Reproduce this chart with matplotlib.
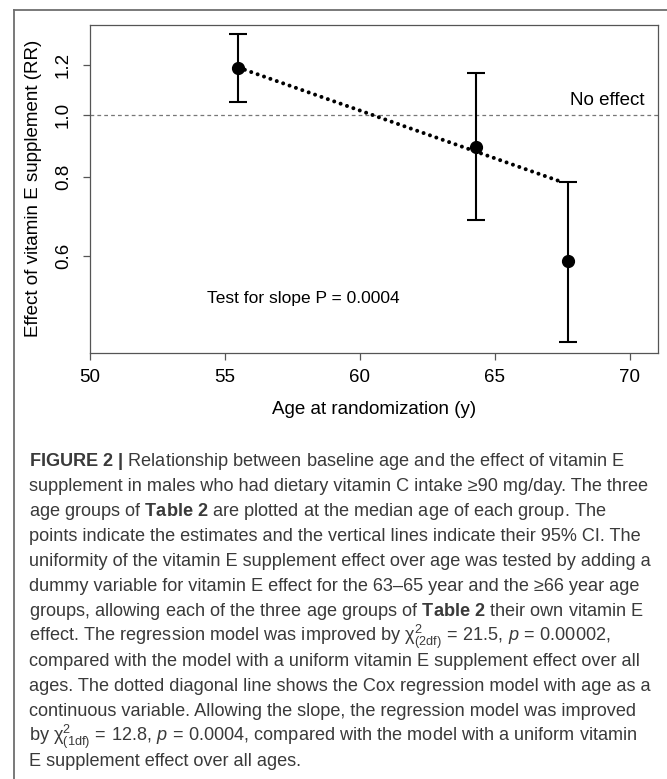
import matplotlib
matplotlib.use("Agg")
import matplotlib.pyplot as plt
from matplotlib.lines import Line2D

W, H, DPI = 667, 779, 100

# median age of each group, estimate and 95% CI of the RR
ages = [55.5, 64.3, 67.7]
rr = [1.187, 0.893, 0.588]
ci_low = [1.051, 0.684, 0.439]
ci_high = [1.343, 1.167, 0.786]

# Cox model with age continuous (straight on log scale)
trend_age = [55.5, 67.55]
trend_rr = [1.19, 0.783]

xticks = [50, 55, 60, 65, 70]
yticks = [0.6, 0.8, 1.0, 1.2]
ytick_labels = ["0.6", "0.8", "1.0", "1.2"]

caption_lines = [
    r"$\mathbf{FIGURE\ 2\ |}$ Relationship between baseline age and the effect of vitamin E",
    "supplement in males who had dietary vitamin C intake ≥90 mg/day. The three",
    r"age groups of $\mathbf{Table\ 2}$ are plotted at the median age of each group. The",
    "points indicate the estimates and the vertical lines indicate their 95% CI. The",
    "uniformity of the vitamin E supplement effect over age was tested by adding a",
    "dummy variable for vitamin E effect for the 63–65 year and the ≥66 year age",
    r"groups, allowing each of the three age groups of $\mathbf{Table\ 2}$ their own vitamin E",
    r"effect. The regression model was improved by $\mathrm{\chi}^2_{(2\mathrm{df})}\,=\,21.5$, $p\,=\,0.00002$,",
    "compared with the model with a uniform vitamin E supplement effect over all",
    "ages. The dotted diagonal line shows the Cox regression model with age as a",
    "continuous variable. Allowing the slope, the regression model was improved",
    r"by $\mathrm{\chi}^2_{(1\mathrm{df})}\,=\,12.8$, $p\,=\,0.0004$, compared with the model with a uniform vitamin",
    "E supplement effect over all ages.",
]

plt.rcParams["font.family"] = ["Liberation Sans", "DejaVu Sans"]
plt.rcParams["mathtext.fontset"] = "custom"
plt.rcParams["mathtext.rm"] = "Liberation Sans"
plt.rcParams["mathtext.it"] = "Liberation Sans:italic"
plt.rcParams["mathtext.bf"] = "Liberation Sans:bold"

fig = plt.figure(figsize=(W / DPI, H / DPI), dpi=DPI)


def fx(px):
    return px / W


def fy(py):
    return 1 - py / H


# outer frame (left and top edges visible)
frame_kw = dict(color="#6e6e6e", lw=1.3, transform=fig.transFigure)
fig.add_artist(Line2D([fx(14), fx(14)], [fy(10), 0], **frame_kw))
fig.add_artist(Line2D([fx(14), 1], [fy(10), fy(10)], **frame_kw))

ax = fig.add_axes([fx(90), fy(352.7), fx(657.7 - 90), (352.7 - 25) / H])
ax.set_yscale("log")
ax.set_xlim(50, 71.03)
ax.set_ylim(0.422, 1.389)

ax.axhline(1.0, color="#777777", lw=0.9, linestyle=(0, (3, 2.5)))
ax.plot(trend_age, trend_rr, color="black", lw=2.9,
        linestyle=(0, (0.001, 1.68)), dash_capstyle="round")

yerr = [[r - lo for r, lo in zip(rr, ci_low)], [hi - r for r, hi in zip(rr, ci_high)]]
ax.errorbar(ages, rr, yerr=yerr, fmt="o", color="black", ms=8.5,
            elinewidth=1.5, capsize=6.4, capthick=1.5)

ax.set_xticks(xticks)
ax.set_yticks(yticks)
ax.set_yticklabels(ytick_labels, rotation=90, va="center")
ax.yaxis.set_minor_locator(plt.NullLocator())
ax.tick_params(axis="both", length=5, width=0.9, color="#555555", labelsize=13.5)
ax.tick_params(axis="x", pad=6.5)
ax.tick_params(axis="y", pad=8)
for sp in ax.spines.values():
    sp.set_color("#555555")
    sp.set_linewidth(0.9)

ax.set_xlabel("Age at randomization (y)", fontsize=13.5, labelpad=11)
ax.set_ylabel("Effect of vitamin E supplement (RR)", fontsize=13.5, labelpad=9)

ax.text(70.55, 1.025, "No effect", ha="right", va="bottom", fontsize=13.5)
ax.text(54.35, 0.505, "Test for slope P = 0.0004", fontsize=12.5, va="baseline")

# caption, fitted to the reference line width
renderer = fig.canvas.get_renderer()
probe = fig.text(0, 0, caption_lines[1], fontsize=13)
width_px = probe.get_window_extent(renderer).width
probe.remove()
cap_size = 13 * (648 - 29) / width_px

for i, line in enumerate(caption_lines):
    fig.text(fx(29), fy(466 + 25 * i), line, fontsize=cap_size,
             color="#3a3a3a", va="baseline", ha="left")

fig.savefig("out.png", dpi=DPI)
